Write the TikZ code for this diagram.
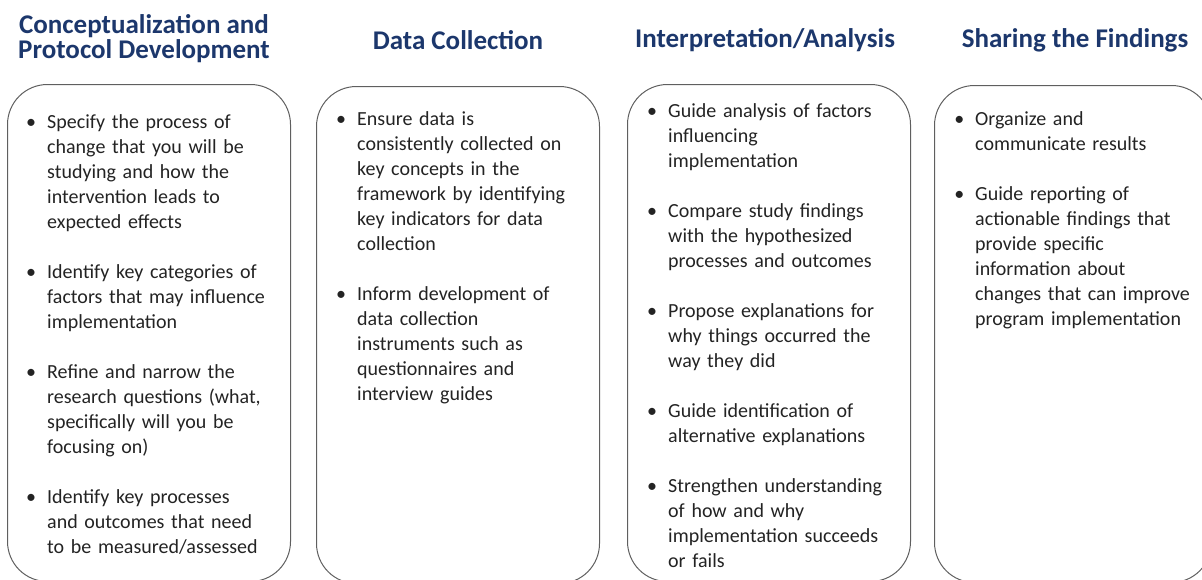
\documentclass[tikz,border=0pt]{standalone}
\usepackage{fontspec}
\setmainfont{Carlito}
\usepackage{enumitem}
\definecolor{headcolor}{RGB}{28,55,108}
\definecolor{boxline}{RGB}{95,95,95}
\definecolor{bodytext}{RGB}{35,35,35}
\usetikzlibrary{positioning}

\tikzset{
  phasebox/.style={draw=boxline, line width=1pt, rounded corners=40pt, minimum width=283pt, minimum height=497pt, anchor=north west, inner sep=0pt},
  phasehead/.style={font=\bfseries\fontsize{27}{25}\selectfont, text=headcolor, align=center},
  phasetext/.style={anchor=north west, inner sep=0pt, text width=262pt, font=\fontsize{20}{25}\selectfont, text=bodytext},
}
\newcommand{\phaselist}[1]{\begin{itemize}[leftmargin=18pt, labelsep=11pt, topsep=0pt, partopsep=0pt, itemsep=25pt, parsep=0pt]#1\end{itemize}}

\begin{document}
\begin{tikzpicture}[x=1pt, y=-1pt]
    \useasboundingbox (0,0) rectangle (1202,579);
    % the four phase boxes
    \node[phasebox] (box1) at (7,84) {};
    \node[phasebox] (box2) at (316,86) {};
    \node[phasebox] (box3) at (627,84) {};
    \node[phasebox, minimum width=277pt] (box4) at (934,85) {};
    % headers
    \node[phasehead] (head1) at (144,39) {Conceptualization and\\Protocol Development};
    \node[phasehead] (head2) at (458,40) {Data Collection};
    \node[phasehead] (head3) at (765,40) {Interpretation/Analysis};
    \node[phasehead] (head4) at (1075,40) {Sharing the Findings};
    % bullet lists
    \node[phasetext] (list1) at (29,103) {\phaselist{
      \item Specify the process of\\change that you will be\\studying and how the\\intervention leads to\\expected effects
      \item Identify key categories of\\factors that may influence\\implementation
      \item Refine and narrow the\\research questions (what,\\specifically will you be\\focusing on)
      \item Identify key processes\\and outcomes that need\\to be measured/assessed}};
    \node[phasetext] (list2) at (339,100) {\phaselist{
      \item Ensure data is\\consistently collected on\\key concepts in the\\framework by identifying\\key indicators for data\\collection
      \item Inform development of\\data collection\\instruments such as\\questionnaires and\\interview guides}};
    \node[phasetext] (list3) at (650,92) {\phaselist{
      \item Guide analysis of factors\\influencing\\implementation
      \item Compare study findings\\with the hypothesized\\processes and outcomes
      \item Propose explanations for\\why things occurred the\\way they did
      \item Guide identification of\\alternative explanations
      \item Strengthen understanding\\of how and why\\implementation succeeds\\or fails}};
    \node[phasetext] (list4) at (957,100) {\phaselist{
      \item Organize and\\communicate results
      \item Guide reporting of\\actionable findings that\\provide specific\\information about\\changes that can improve\\program implementation}};
\end{tikzpicture}
\end{document}
